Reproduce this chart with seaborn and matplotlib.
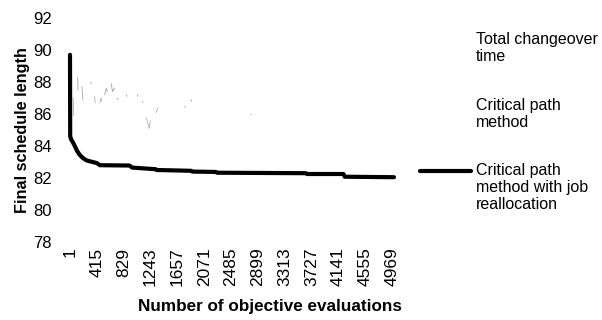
import numpy as np
import pandas as pd
import matplotlib
matplotlib.use("Agg")
import matplotlib.pyplot as plt
from matplotlib.lines import Line2D
import seaborn as sns

# ---- data ----
series_names = ["Total changeover time", "Critical path method",
                "Critical path method with job reallocation"]
legend_labels = ["Total changeover\ntime", "Critical path\nmethod",
                 "Critical path\nmethod with job\nreallocation"]

xticks = [1, 415, 829, 1243, 1657, 2071, 2485, 2899, 3313, 3727, 4141, 4555, 4969]
yticks = [78, 80, 82, 84, 86, 88, 90, 92]

# Critical path method with job reallocation (thick black)
cpm_job_n = [1, 4, 20, 50, 80, 110, 150, 200, 256, 300, 352, 400, 429, 460, 918, 960,
             1320, 1340, 1870, 1890, 2250, 2270, 3640, 3660, 4220, 4240, 5000]
cpm_job_v = [89.7, 84.6, 84.4, 84.2, 83.95, 83.7, 83.45, 83.25, 83.1, 83.05, 83.0, 82.95,
             82.9, 82.8, 82.78, 82.65, 82.55, 82.5, 82.45, 82.4, 82.38, 82.33, 82.3, 82.25,
             82.25, 82.08, 82.05]

# Total changeover time (faint, only fragments visible)
tct_seg = [0, 0, 1, 1, 2, 2, 3, 3, 3, 4, 4, 4, 5, 5, 6, 6, 7, 7]
tct_n = [120, 125, 185, 200, 320, 330, 535, 560, 580, 640, 655, 690, 870, 880, 1040, 1050, 1865, 1880]
tct_v = [88.3, 87.5, 87.7, 86.9, 88.0, 87.9, 87.2, 87.6, 87.4, 87.9, 87.4, 87.6, 87.2, 87.1,
         87.2, 87.1, 86.9, 86.8]

# Critical path method (faint, only fragments visible)
cpm_seg = [0, 0, 1, 1, 2, 2, 2, 3, 3, 4, 4, 5, 5, 6, 6, 7, 7, 7, 8, 8, 9, 9, 10, 10]
cpm_n = [50, 60, 380, 390, 460, 480, 490, 720, 750, 800, 810, 950, 960, 1115, 1125,
         1180, 1222, 1240, 1330, 1360, 1770, 1780, 2780, 2790]
cpm_v = [87.0, 85.9, 87.1, 86.7, 86.7, 87.0, 86.8, 87.0, 86.9, 86.2, 86.2, 86.4, 86.4,
         86.8, 86.7, 85.75, 85.1, 85.6, 86.1, 86.4, 86.5, 86.4, 86.0, 86.0]

# ---- plot ----
sns.set_theme(style="white")
plt.rcParams['font.family'] = ['Liberation Sans', 'DejaVu Sans']

W, H = 602, 320
fig = plt.figure(figsize=(W / 100, H / 100), dpi=100)
L, R, T, B = 60, 402, 18, 242
ax = fig.add_axes([L / W, 1 - B / H, (R - L) / W, (B - T) / H])

df_tct = pd.DataFrame({"n": tct_n, "v": tct_v, "seg": tct_seg})
df_cpm = pd.DataFrame({"n": cpm_n, "v": cpm_v, "seg": cpm_seg})
df_job = pd.DataFrame({"n": cpm_job_n, "v": cpm_job_v})

sns.lineplot(data=df_tct, x="n", y="v", units="seg", estimator=None, sort=False,
             color="#a0a0a0", lw=0.6, ax=ax, legend=False)
sns.lineplot(data=df_cpm, x="n", y="v", units="seg", estimator=None, sort=False,
             color="#b0b0b0", lw=0.6, ax=ax, legend=False)
sns.lineplot(data=df_job, x="n", y="v", estimator=None, sort=False,
             color="black", lw=3.0, ax=ax, legend=False)

s = (392 - 70) / (4969 - 1)
ax.set_xlim(1 - (70 - L) / s, 1 + (R - 70) / s)
ax.set_ylim(78, 92)
ax.set_xticks(xticks)
ax.set_xticklabels([str(t) for t in xticks], rotation=90, fontsize=12.5)
ax.set_yticks(yticks)
ax.set_yticklabels([str(t) for t in yticks], fontsize=12)
ax.tick_params(axis="both", length=0, pad=4, colors="black")
ax.tick_params(axis="y", pad=6)
for sp in ax.spines.values():
    sp.set_visible(False)
ax.set_xlabel("Number of objective evaluations", fontsize=12.3, fontweight="bold",
              color="black")
ax.set_ylabel("Final schedule length", fontsize=11.7, fontweight="bold", color="black")
ax.xaxis.set_label_coords((270 - L) / (R - L), -(307 - B) / (B - T))
ax.yaxis.set_label_coords(-(L - 22) / (R - L), 0.5)
ax.xaxis.label.set_va("center")
ax.yaxis.label.set_va("center")

# manual legend (line aligned with first text line, as in the reference)
leg_x_text = 476 / W
leg_colors = ["#c8c8c8", "#d0d0d0", "black"]
leg_lw = [0.3, 0.3, 3.0]
leg_tops = [35, 101, 166]
for lab, top, c, lw in zip(legend_labels, leg_tops, leg_colors, leg_lw):
    fig.text(leg_x_text, 1 - (top - 3) / H, lab, fontsize=11.5, va="top", ha="left",
             linespacing=1.15, color="black")
    yline = 1 - (top + 5) / H
    if lw > 1:
        fig.add_artist(Line2D([420 / W, 471 / W], [yline, yline], color=c, lw=lw,
                              transform=fig.transFigure))

fig.savefig("out.png", dpi=100)
